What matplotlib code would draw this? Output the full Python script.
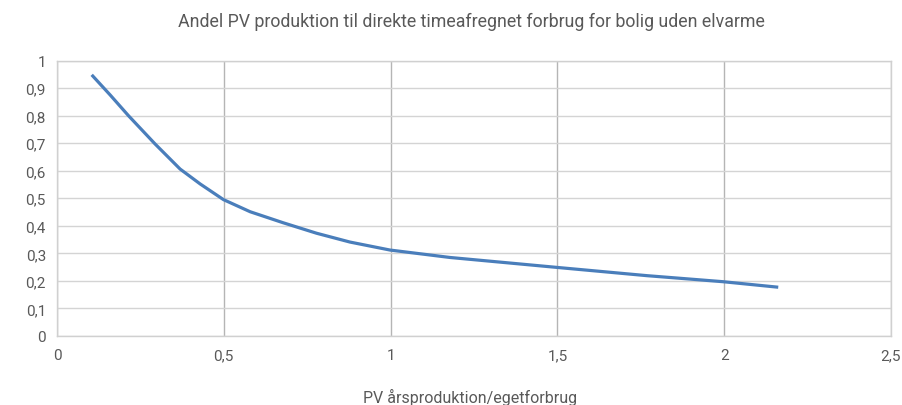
import matplotlib
matplotlib.use('Agg')
import matplotlib.pyplot as plt
from matplotlib.ticker import FuncFormatter, MultipleLocator

# Andel af PV-produktion brugt direkte, som funktion af årsproduktion/forbrug
pv_ratio = [0.104, 0.16, 0.214, 0.294, 0.369, 0.429, 0.499, 0.579, 0.678,
            0.778, 0.878, 0.998, 1.178, 1.498, 1.768, 1.997, 2.162]
direct_share = [0.948, 0.874, 0.800, 0.697, 0.606, 0.552, 0.495, 0.451, 0.411,
                0.373, 0.341, 0.312, 0.285, 0.249, 0.219, 0.197, 0.177]

TEXT = '#595959'
LINE = '#4a7ebb'

plt.rcParams['font.family'] = ['Roboto', 'DejaVu Sans']

fig = plt.figure(figsize=(9.02, 4.06), dpi=100)
ax = fig.add_axes([0.0632, 0.170, 0.9246, 0.6785])

ax.plot(pv_ratio, direct_share, color=LINE, linewidth=2.3,
        solid_joinstyle='round', solid_capstyle='butt', zorder=3)

ax.set_xlim(0, 2.5)
ax.set_ylim(0, 1)
ax.xaxis.set_major_locator(MultipleLocator(0.5))
ax.yaxis.set_major_locator(MultipleLocator(0.1))

def comma(v, pos):
    s = f'{v:.1f}'.rstrip('0').rstrip('.')
    return s.replace('.', ',')

ax.xaxis.set_major_formatter(FuncFormatter(comma))
ax.yaxis.set_major_formatter(FuncFormatter(comma))

ax.grid(axis='y', color='#d4d4d4', linewidth=1.0)
ax.grid(axis='x', color='#b5b5b5', linewidth=1.0)
ax.set_axisbelow(True)
for side in ax.spines.values():
    side.set_color('#d0d0d0')
    side.set_linewidth(1.0)

ax.tick_params(length=0, labelsize=11, labelcolor=TEXT, pad=8)
ax.tick_params(axis='x', pad=9)

fig.text(0.523, 0.946,
         'Andel PV produktion til direkte timeafregnet forbrug for bolig uden elvarme',
         fontsize=12.8, color=TEXT, ha='center', va='center')
fig.text(0.521, 0.022, 'PV årsproduktion/egetforbrug',
         fontsize=11.5, color=TEXT, ha='center', va='center')

fig.savefig('out.png', dpi=100)
